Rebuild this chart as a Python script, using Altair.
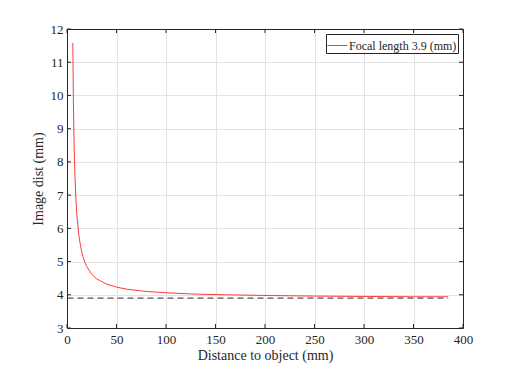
import altair as alt
import pandas as pd

# distance to object (mm) and image distance (mm)
dist = [5.88, 6.0, 6.5, 7.0, 7.5, 8.0, 9.0, 10.0, 12.0, 14.0, 16.0, 18.0, 20.0,
        25.0, 30.0, 40.0, 50.0, 60.0, 80.0, 100.0, 130.0, 160.0, 200.0, 250.0,
        300.0, 350.0, 385.0]
img = [11.58, 11.14, 9.75, 8.81, 8.13, 7.61, 6.88, 6.39, 5.78, 5.41, 5.16, 4.98,
       4.85, 4.62, 4.48, 4.32, 4.23, 4.17, 4.10, 4.06, 4.02, 4.00, 3.98, 3.96,
       3.95, 3.94, 3.94]
ref_x = [0.5, 385.0]
ref_y = [3.9, 3.9]
x_ticks = [0, 50, 100, 150, 200, 250, 300, 350, 400]
y_ticks = [3, 4, 5, 6, 7, 8, 9, 10, 11, 12]
series_name = "Focal length 3.9 (mm)"

df = pd.DataFrame({"d": dist, "v": img, "s": series_name})
dref = pd.DataFrame({"d": ref_x, "v": ref_y})
dxt = pd.DataFrame({"t": x_ticks})
dyt = pd.DataFrame({"t": y_ticks})

FONT = "Liberation Serif"
TXT = "#262626"
GRID = "#e3e3e3"
W, H = 396, 299

xscale = alt.Scale(domain=[0, 400], nice=False, zero=False)
yscale = alt.Scale(domain=[3, 12], nice=False, zero=False)

common = dict(domain=True, domainColor=TXT, domainWidth=1, ticks=False,
              labelFont=FONT, labelFontSize=13, labelColor=TXT,
              labelOverlap=False, labelFlush=False,
              titleFont=FONT, titleFontSize=14, titleFontWeight="normal",
              titleColor=TXT)

xaxis = alt.Axis(values=x_ticks, title="Distance to object (mm)", grid=True,
                 gridColor=GRID, labelPadding=5, titlePadding=2, **common)
yaxis = alt.Axis(values=y_ticks, title="Image dist (mm)", grid=True,
                 gridColor=GRID, labelPadding=4, titlePadding=5, **common)
xaxis_top = alt.Axis(orient="top", values=x_ticks, title=None, labels=False,
                     grid=False, domain=True, domainColor=TXT, ticks=False)
yaxis_right = alt.Axis(orient="right", values=y_ticks, title=None, labels=False,
                       grid=False, domain=True, domainColor=TXT, ticks=False)

curve = alt.Chart(df).mark_line(strokeWidth=1).encode(
    x=alt.X("d:Q", scale=xscale, axis=xaxis),
    y=alt.Y("v:Q", scale=yscale, axis=yaxis),
    color=alt.Color("s:N", scale=alt.Scale(domain=[series_name], range=["#ff3b3b"]),
                    legend=alt.Legend(title=None, orient="top-right", offset=5,
                                      strokeColor=TXT, fillColor="white",
                                      padding=1, symbolType="stroke",
                                      symbolSize=400, symbolStrokeWidth=1,
                                      labelFont=FONT, labelFontSize=12,
                                      labelColor=TXT, labelOffset=1)),
)

ref = alt.Chart(dref).mark_line(strokeWidth=1, color="#262626", strokeDash=[6, 4]).encode(
    x=alt.X("d:Q", scale=xscale, axis=xaxis_top),
    y=alt.Y("v:Q", scale=yscale, axis=yaxis_right),
)

tick_style = dict(color=TXT, strokeWidth=1)
xt_bot = alt.Chart(dxt).mark_rule(**tick_style).encode(
    x=alt.X("t:Q", scale=xscale, axis=None), y=alt.value(H), y2=alt.value(H - 4))
xt_top = alt.Chart(dxt).mark_rule(**tick_style).encode(
    x=alt.X("t:Q", scale=xscale, axis=None), y=alt.value(0), y2=alt.value(4))
yt_left = alt.Chart(dyt).mark_rule(**tick_style).encode(
    y=alt.Y("t:Q", scale=yscale, axis=None), x=alt.value(0), x2=alt.value(4))
yt_right = alt.Chart(dyt).mark_rule(**tick_style).encode(
    y=alt.Y("t:Q", scale=yscale, axis=None), x=alt.value(W), x2=alt.value(W - 4))

chart = alt.layer(curve, ref, xt_bot, xt_top, yt_left, yt_right).resolve_axis(
    x="independent", y="independent"
).properties(
    width=W, height=H,
    background="white",
    autosize=alt.AutoSizeParams(type="none"),
    padding={"left": 67, "top": 29, "right": 49, "bottom": 41},
).configure_view(stroke=None)

chart.save("out.html", embed_options={"renderer": "svg", "actions": False})
